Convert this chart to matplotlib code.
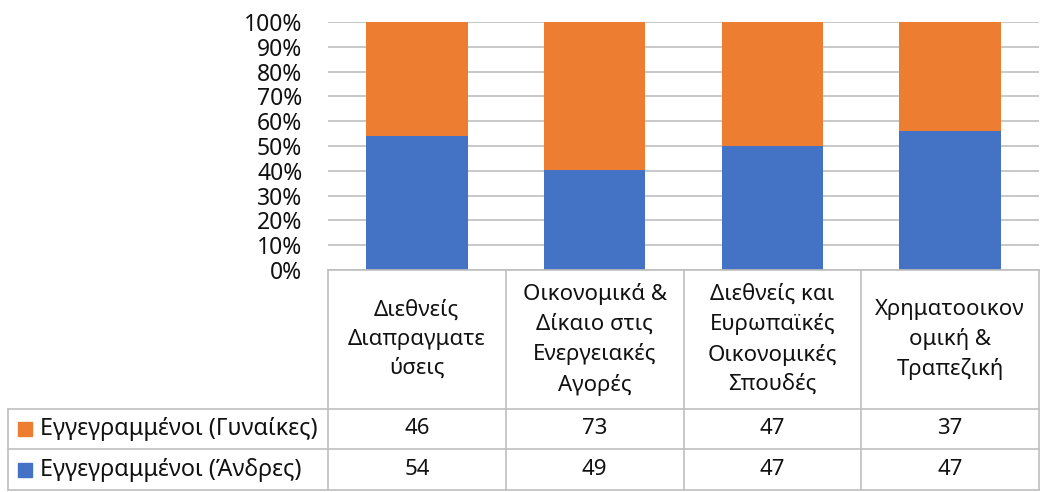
import matplotlib
matplotlib.use("Agg")
import matplotlib.pyplot as plt
from matplotlib.lines import Line2D
from matplotlib.patches import Rectangle

plt.rcParams['font.family'] = ['Noto Sans', 'DejaVu Sans']

categories = ["Διεθνείς\nΔιαπραγματε\nύσεις",
              "Οικονομικά &\nΔίκαιο στις\nΕνεργειακές\nΑγορές",
              "Διεθνείς και\nΕυρωπαϊκές\nΟικονομικές\nΣπουδές",
              "Χρηματοοικον\nομική &\nΤραπεζική"]
women = [46, 73, 47, 37]
men = [54, 49, 47, 47]
series_labels = ["Εγγεγραμμένοι (Γυναίκες)", "Εγγεγραμμένοι (Άνδρες)"]
ytick_values = [0, 10, 20, 30, 40, 50, 60, 70, 80, 90, 100]

ORANGE = "#ED7D31"
BLUE = "#4472C4"
GRID = "#BFBFBF"
TXT = "#111111"
W, H = 1040, 492
FS_TICK = 16.5
FS = 16
FS_LEG = 16.8

fig = plt.figure(figsize=(W / 100, H / 100), dpi=100)

def fx(x):
    return x / W

def fy(y):
    return 1 - y / H

left, right, top, bottom = 328, 1039, 22, 270
ax = fig.add_axes([fx(left), fy(bottom), fx(right - left), (bottom - top) / H])

n = len(categories)
xs = list(range(n))
men_pct = [100 * m / (m + w) for m, w in zip(men, women)]
women_pct = [100 * w / (m + w) for m, w in zip(men, women)]
ax.bar(xs, men_pct, width=0.57, color=BLUE, zorder=3)
ax.bar(xs, women_pct, bottom=men_pct, width=0.57, color=ORANGE, zorder=3)
ax.set_xlim(-0.5, n - 0.5)
ax.set_ylim(0, 100)
ax.set_yticks(ytick_values)
ax.set_yticklabels([f"{v}%" for v in ytick_values], fontsize=FS_TICK, color=TXT)
ax.tick_params(axis='y', length=0, pad=18.5)
ax.set_xticks([])
ax.yaxis.grid(True, color=GRID, linewidth=1.2, zorder=0)
for s in ax.spines.values():
    s.set_visible(False)

# data table
col_edges = [left + i * (right - left) / n for i in range(n + 1)]
row_top, row1, row2, row_bot = 270, 409, 449, 490
tbl_left = 8

def hline(y, x0, x1):
    fig.add_artist(Line2D([fx(x0), fx(x1)], [fy(y), fy(y)], color=GRID, linewidth=1.2))

def vline(x, y0, y1):
    fig.add_artist(Line2D([fx(x), fx(x)], [fy(y0), fy(y1)], color=GRID, linewidth=1.2))

hline(row_top, left, right)
hline(row1, tbl_left, right)
hline(row2, tbl_left, right)
hline(row_bot, tbl_left, right)
for x in col_edges:
    vline(x, row_top, row_bot)
vline(tbl_left, row1, row_bot)

for i, cat in enumerate(categories):
    cx = (col_edges[i] + col_edges[i + 1]) / 2
    fig.text(fx(cx), fy((row_top + row1) / 2), cat, ha='center', va='center',
             fontsize=FS, linespacing=1.5, color=TXT)
    fig.text(fx(cx), fy((row1 + row2) / 2), str(women[i]), ha='center', va='center',
             fontsize=FS, color=TXT)
    fig.text(fx(cx), fy((row2 + row_bot) / 2), str(men[i]), ha='center', va='center',
             fontsize=FS, color=TXT)

for (y0, y1), lab, col in [((row1, row2), series_labels[0], ORANGE),
                           ((row2, row_bot), series_labels[1], BLUE)]:
    cy = (y0 + y1) / 2
    fig.add_artist(Rectangle((fx(18), fy(cy + 7)), fx(14), 14 / H, color=col))
    fig.text(fx(40), fy(cy), lab, ha='left', va='center', fontsize=FS_LEG, color=TXT)

fig.savefig("out.png", dpi=100)
